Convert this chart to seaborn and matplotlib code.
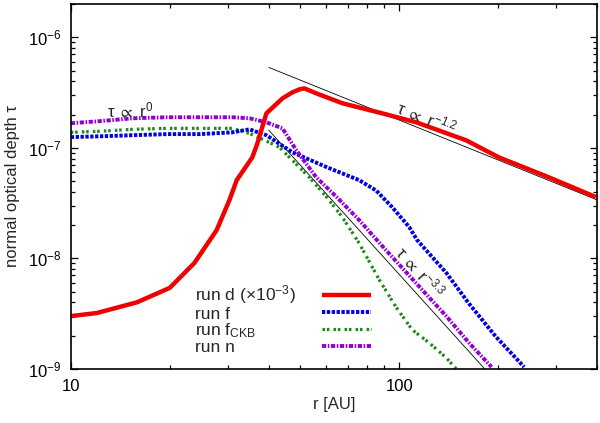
import matplotlib
matplotlib.use("Agg")
import matplotlib.pyplot as plt
import matplotlib.ticker as mticker
from matplotlib.lines import Line2D
import seaborn as sns

# ---- data ----
r_d = [10, 12, 15.9, 20, 23.8, 27.8, 30.4, 32, 35.7, 37, 39.4, 44.1, 47.3,
       49.7, 51.4, 55.9, 67.1, 88.8, 112.7, 159.8, 201, 285.7, 397]
tau_d = [3.0e-9, 3.2e-9, 4.0e-9, 5.4e-9, 9.1e-9, 1.8e-8, 3.36e-8, 5.1e-8,
         8.2e-8, 1.1e-7, 2.05e-7, 2.8e-7, 3.18e-7, 3.38e-7, 3.45e-7, 3.11e-7,
         2.53e-7, 2.05e-7, 1.70e-7, 1.17e-7, 8.2e-8, 5.4e-8, 3.58e-8]

r_f = [10, 12.2, 15.4, 19.6, 24.7, 31, 35, 39.4, 47.3, 60, 75.5, 85.1, 95.2,
       107.2, 113.4, 139, 163, 197, 240]
tau_f = [1.25e-7, 1.27e-7, 1.30e-7, 1.33e-7, 1.33e-7, 1.38e-7, 1.47e-7,
         1.30e-7, 9.1e-8, 6.7e-8, 5.1e-8, 4.1e-8, 2.9e-8, 1.92e-8, 1.46e-8,
         7.4e-9, 3.9e-9, 1.95e-9, 1.04e-9]

r_ckb = [10, 12.2, 15.4, 19.6, 24.7, 31, 35, 38.9, 43.2, 47.3, 53.3, 60, 67.1,
         75.5, 86.9, 97.9, 109.6, 123.4, 139, 149]
tau_ckb = [1.38e-7, 1.41e-7, 1.47e-7, 1.50e-7, 1.50e-7, 1.50e-7, 1.35e-7,
           1.17e-7, 1.01e-7, 7.7e-8, 5.4e-8, 3.6e-8, 2.36e-8, 1.37e-8, 6.4e-9,
           3.6e-9, 2.25e-9, 1.72e-9, 1.26e-9, 1.0e-9]

r_n = [10, 12.2, 15.4, 19.6, 24.7, 31, 35, 39.4, 44.1, 48.6, 55.9, 64.4, 75.5,
       88.8, 109.6, 139, 163, 191]
tau_n = [1.67e-7, 1.74e-7, 1.85e-7, 1.89e-7, 1.89e-7, 1.89e-7, 1.85e-7,
         1.70e-7, 1.50e-7, 9.5e-8, 5.4e-8, 3.6e-8, 2.22e-8, 1.29e-8, 6.5e-9,
         3.0e-9, 1.72e-9, 1.04e-9]

# power-law guide lines (end points)
r_fit12 = [40, 400]
tau_fit12 = [5.35e-7, 3.38e-8]
r_fit33 = [40, 182]
tau_fit33 = [1.45e-7, 1.0e-9]

labels = ["run d ($\\times$10$^{-3}$)", "run f", "run f$_{\\mathrm{CKB}}$", "run n"]
x_ticks = [10, 100]
x_ticklabels = ["10", "100"]
y_ticks = [1e-9, 1e-8, 1e-7, 1e-6]

# ---- style ----
sns.set_theme(style="ticks")
plt.rcParams["font.family"] = ["Liberation Sans", "DejaVu Sans"]
plt.rcParams["mathtext.fontset"] = "custom"
plt.rcParams["mathtext.rm"] = "Liberation Sans"
plt.rcParams["mathtext.it"] = "Liberation Sans"
plt.rcParams["mathtext.bf"] = "Liberation Sans:bold"
plt.rcParams["mathtext.fallback"] = "stixsans"
plt.rcParams["font.size"] = 12

fig = plt.figure(figsize=(6, 4.23), dpi=100)
ax = fig.add_axes([0.118, 0.128, 0.877, 0.8625])

red = "#f00000"
blue = "#0000e0"
green = "#1a8a1a"
purple = "#9400d3"

ls_f = (0, (0.85, 0.4))
ls_ckb = (0, (0.8, 0.55, 0.8, 1.3))
ls_n = (0, (1.1, 0.4, 0.4, 0.4))

# guide lines
sns.lineplot(x=r_fit12, y=tau_fit12, ax=ax, color="black", lw=0.6, legend=False)
sns.lineplot(x=r_fit33, y=tau_fit33, ax=ax, color="black", lw=0.6, legend=False)

sns.lineplot(x=r_ckb, y=tau_ckb, ax=ax, color=green, lw=2.3, estimator=None, sort=False)
ax.lines[-1].set_linestyle(ls_ckb)
sns.lineplot(x=r_f, y=tau_f, ax=ax, color=blue, lw=2.8, estimator=None, sort=False)
ax.lines[-1].set_linestyle(ls_f)
sns.lineplot(x=r_n, y=tau_n, ax=ax, color=purple, lw=2.8, estimator=None, sort=False)
ax.lines[-1].set_linestyle(ls_n)
sns.lineplot(x=r_d, y=tau_d, ax=ax, color=red, lw=3.2, estimator=None, sort=False)

for ln in ax.lines:
    ln.set_dash_capstyle("butt")
    ln.set_solid_capstyle("butt")

ax.set_xscale("log")
ax.set_yscale("log")
ax.set_xlim(10, 400)
ax.set_ylim(1e-9, 2e-6)

ax.xaxis.set_major_locator(mticker.FixedLocator(x_ticks))
ax.xaxis.set_major_formatter(mticker.FixedFormatter(x_ticklabels))
ax.xaxis.set_minor_locator(mticker.LogLocator(base=10, subs=range(2, 10)))
ax.xaxis.set_minor_formatter(mticker.NullFormatter())
ax.yaxis.set_major_locator(mticker.FixedLocator(y_ticks))
ax.yaxis.set_major_formatter(mticker.LogFormatterSciNotation())
ax.yaxis.set_minor_locator(mticker.LogLocator(base=10, subs=range(2, 10), numticks=10))
ax.yaxis.set_minor_formatter(mticker.NullFormatter())

ax.tick_params(which="both", direction="in", top=True, right=True, color="black",
               width=0.9, labelsize=12, labelcolor="black")
ax.tick_params(which="major", length=5, pad=7)
ax.tick_params(which="minor", length=2.8)
for s in ax.spines.values():
    s.set_linewidth(1.2)
    s.set_color("black")

ax.set_xlabel("r [AU]", fontsize=12)
ax.set_ylabel("normal optical depth τ", fontsize=12)
ax.xaxis.set_label_coords(0.5, -0.078)
ax.yaxis.set_label_coords(-0.097, 0.5)

# annotations
ax.text(12.9, 1.89e-7, r"$\tau\ \propto\ \mathrm{r}^{0}$", fontsize=12,
        ha="left", va="baseline")
ax.text(121.6, 1.85e-7, r"$\tau\ \propto\ \mathrm{r}^{-1.2}$", fontsize=12,
        ha="center", va="center", rotation=-22, rotation_mode="anchor")
ax.text(115.8, 7.5e-9, r"$\tau\ \propto\ \mathrm{r}^{-3.3}$", fontsize=12,
        ha="center", va="center", rotation=-48, rotation_mode="anchor")

# legend, gnuplot-like: left-aligned text, line samples in a column to the right
blank = [Line2D([], [], lw=0) for _ in labels]
leg_text = ax.legend(blank, labels, loc="upper left", bbox_to_anchor=(0.236, 0.234),
                     frameon=False, handlelength=0, handletextpad=0,
                     labelspacing=0.0, borderpad=0, borderaxespad=0, fontsize=12.5)
ax.add_artist(leg_text)

samples = [
    Line2D([], [], color=red, lw=3.2, solid_capstyle="butt"),
    Line2D([], [], color=blue, lw=2.8, ls=ls_f, dash_capstyle="butt"),
    Line2D([], [], color=green, lw=2.3, ls=ls_ckb, dash_capstyle="butt"),
    Line2D([], [], color=purple, lw=2.8, ls=ls_n, dash_capstyle="butt"),
]
leg_lines = ax.legend(samples, labels, loc="upper left", bbox_to_anchor=(0.478, 0.234),
                      frameon=False, handlelength=2.8, handletextpad=0,
                      labelspacing=0.0, borderpad=0, borderaxespad=0, fontsize=12.5)
for t in leg_lines.get_texts():
    t.set_visible(False)

fig.savefig("out.png", dpi=100)
